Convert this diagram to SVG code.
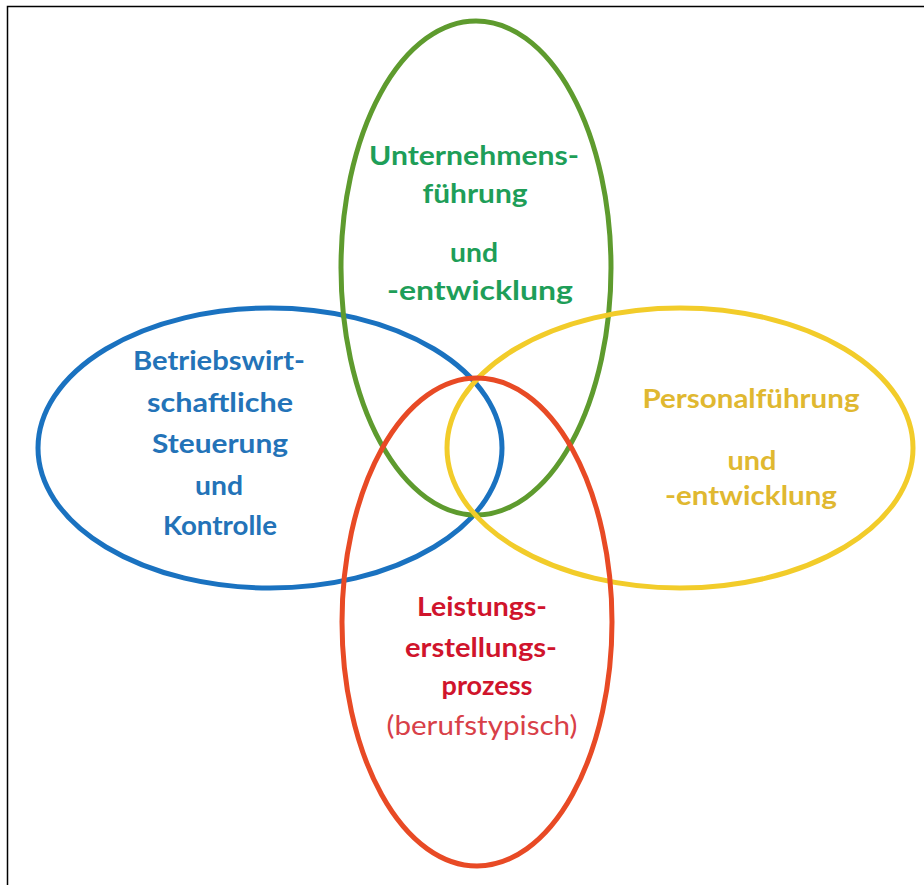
<svg xmlns="http://www.w3.org/2000/svg" width="924" height="885" viewBox="0 0 924 885">
<style>
.e{fill:none;stroke-width:5}
.t{font-family:Lato,"Open Sans","Liberation Sans",sans-serif;font-weight:bold;font-size:26px;text-anchor:middle}
</style>
<rect x="0" y="0" width="924" height="885" fill="#fff"/>
<path d="M7.5 885 V6.5 H924" fill="none" stroke="#000" stroke-width="1.5"/>
<g id="blue"><ellipse class="e" cx="270" cy="448" rx="232" ry="140" stroke="#1a72c0"/></g>
<g id="green"><ellipse class="e" cx="476" cy="268" rx="135" ry="247" stroke="#5e9b2e"/></g>
<g id="yellow"><ellipse class="e" cx="680" cy="448" rx="233" ry="140" stroke="#f2cc2a"/></g>
<g id="red"><ellipse class="e" cx="477" cy="622" rx="135" ry="244" stroke="#e84a25"/></g>
<g id="green-text" class="t" fill="#1e9e58">
<text x="474" y="165" textLength="210" lengthAdjust="spacingAndGlyphs">Unternehmens-</text>
<text x="475" y="203" textLength="105" lengthAdjust="spacingAndGlyphs">führung</text>
<text x="474" y="262" textLength="48" lengthAdjust="spacingAndGlyphs">und</text>
<text x="480" y="300" textLength="186" lengthAdjust="spacingAndGlyphs">-entwicklung</text>
</g>
<g id="blue-text" class="t" fill="#2373b8">
<text x="219" y="370" textLength="172" lengthAdjust="spacingAndGlyphs">Betriebswirt-</text>
<text x="220" y="412" textLength="146" lengthAdjust="spacingAndGlyphs">schaftliche</text>
<text x="220" y="453" textLength="136" lengthAdjust="spacingAndGlyphs">Steuerung</text>
<text x="219" y="495" textLength="48" lengthAdjust="spacingAndGlyphs">und</text>
<text x="220" y="535" textLength="114" lengthAdjust="spacingAndGlyphs">Kontrolle</text>
</g>
<g id="yellow-text" class="t" fill="#e0b830" font-size="24">
<text x="751" y="408" textLength="217" lengthAdjust="spacingAndGlyphs">Personalführung</text>
<text x="752" y="470" textLength="49" lengthAdjust="spacingAndGlyphs">und</text>
<text x="751" y="505" textLength="172" lengthAdjust="spacingAndGlyphs">-entwicklung</text>
</g>
<g id="red-text" class="t" fill="#d0142c" font-size="28">
<text x="482" y="616" textLength="130" lengthAdjust="spacingAndGlyphs">Leistungs-</text>
<text x="481" y="657" textLength="152" lengthAdjust="spacingAndGlyphs">erstellungs-</text>
<text x="487" y="695" textLength="91" lengthAdjust="spacingAndGlyphs">prozess</text>
<text x="482" y="735" textLength="191" lengthAdjust="spacingAndGlyphs" font-weight="normal" fill="#d84048">(berufstypisch)</text>
</g>
</svg>
